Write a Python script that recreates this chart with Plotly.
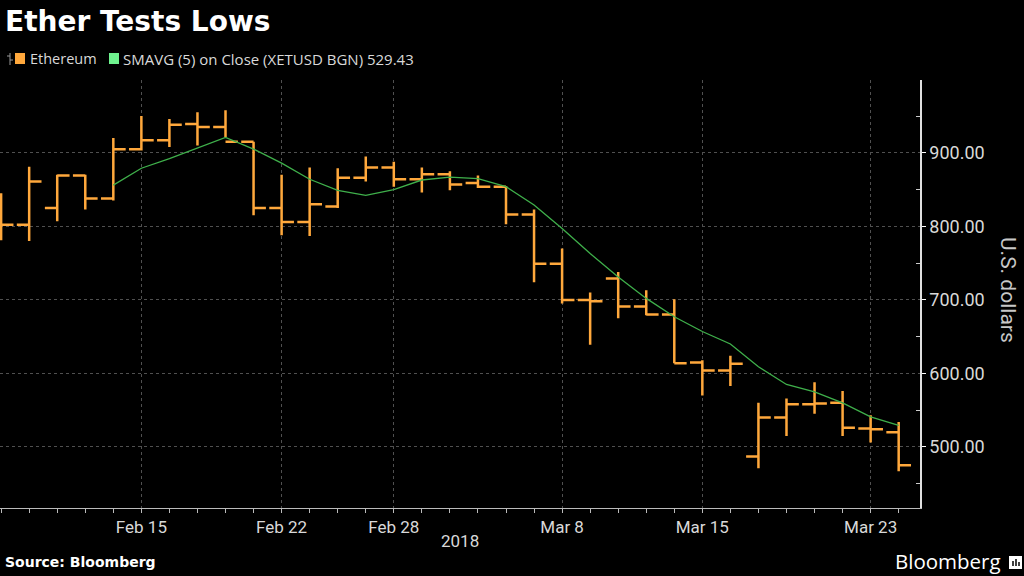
import pandas as pd
import plotly.graph_objects as go

# ---- data (weekday bars, Feb 8 – Mar 26, 2018) ----
dates = [d.strftime("%Y-%m-%d") for d in pd.bdate_range("2018-02-08", "2018-03-26")]
opens = [840, 802, 825, 869, 838, 905, 917, 939, 935, 915, 825, 806, 827, 866, 880, 864, 871,
         859, 854, 816, 749, 700, 729, 691, 680, 615, 604, 487, 540, 558, 560, 525, 520]
highs = [845, 881, 870, 870, 920, 950, 946, 955, 958, 915, 870, 880, 879, 895, 888, 880, 875,
         869, 855, 823, 770, 710, 738, 713, 701, 618, 624, 560, 566, 588, 576, 543, 534]
lows = [781, 780, 807, 823, 835, 903, 908, 910, 921, 815, 788, 787, 825, 861, 854, 846, 849,
        852, 803, 724, 695, 639, 675, 679, 614, 570, 583, 471, 515, 545, 515, 506, 467]
closes = [802, 861, 869, 838, 905, 917, 938, 935, 915, 825, 806, 830, 866, 880, 864, 871, 857,
          854, 816, 749, 700, 698, 691, 680, 614, 604, 613, 540, 558, 559, 526, 524, 475]
sma_start = 4
sma_values = [856, 879, 892, 906, 921, 905, 886, 864, 849, 842, 850, 863, 867, 865, 854, 829,
              797, 763, 731, 702, 677, 657, 640, 609, 585, 575, 560, 541, 529.43]
tick_dates = ["2018-02-15", "2018-02-22", "2018-02-28", "2018-03-08", "2018-03-15", "2018-03-23"]
tick_labels = ["Feb 15", "Feb 22", "Feb 28", "Mar 8", "Mar 15", "Mar 23"]
y_ticks = [500, 600, 700, 800, 900]

ORANGE = "#ffa83c"
GREEN_LINE = "#3fb04b"
GREEN_SWATCH = "#6ef28e"
TXT = "#d9d9d9"

idx = list(range(len(dates)))
tick_idx = [dates.index(d) for d in tick_dates]
sma_x = idx[sma_start:sma_start + len(sma_values)]

# plot area in pixels: x 0..920, y 80..508
PW, PT, PB = 920, 80, 508
def px_x(p):
    return p / PW
def px_y(p):
    return (PB - p) / (PB - PT)

fig = go.Figure()
fig.add_trace(go.Ohlc(
    x=idx, open=opens, high=highs, low=lows, close=closes,
    increasing=dict(line=dict(color=ORANGE, width=2.5)),
    decreasing=dict(line=dict(color=ORANGE, width=2.5)),
    tickwidth=0.44, showlegend=False, hoverinfo="skip",
))
fig.add_trace(go.Scatter(
    x=sma_x, y=sma_values, mode="lines",
    line=dict(color=GREEN_LINE, width=1.3), showlegend=False, hoverinfo="skip",
))

fig.update_layout(
    width=1024, height=576,
    margin=dict(l=0, r=1024 - PW, t=PT, b=576 - PB, autoexpand=False),
    paper_bgcolor="black", plot_bgcolor="black",
    font=dict(family="Roboto", color=TXT),
    xaxis=dict(
        automargin=False,
        range=[-0.04, 32.76], rangeslider=dict(visible=False),
        tickmode="array", tickvals=tick_idx, ticktext=tick_labels,
        ticks="outside", ticklen=4, tickcolor="#bbbbbb",
        tickfont=dict(size=17, color=TXT, family="Roboto"),
        showgrid=True, gridcolor="#505050", griddash="dot", gridwidth=1,
        showline=True, linecolor="#bbbbbb", linewidth=1,
        zeroline=False,
        minor=dict(tickmode="linear", tick0=0, dtick=1, ticks="outside", ticklen=4,
                   tickcolor="#bbbbbb", showgrid=False),
    ),
    yaxis=dict(
        automargin=False,
        side="right", range=[417, 999],
        tickmode="array", tickvals=y_ticks, tickformat=".2f",
        ticks="outside", ticklen=4, tickcolor="white",
        tickfont=dict(size=18, color=TXT, family="Roboto"),
        showgrid=True, gridcolor="#505050", griddash="dot", gridwidth=1,
        showline=True, linecolor="#e0e0e0", linewidth=1.5,
        zeroline=False,
        minor=dict(tickmode="linear", tick0=450, dtick=100, ticks="inside", ticklen=4,
                   tickcolor="#cccccc", showgrid=False),
    ),
)

annotations = [
    dict(text="<b>Ether Tests Lows</b>", x=px_x(3), y=px_y(21), xanchor="left", yanchor="middle",
         font=dict(family="DejaVu Sans", size=28, color="white")),
    dict(text="Ethereum", x=px_x(28), y=px_y(59), xanchor="left", yanchor="middle",
         font=dict(family="Open Sans", size=14.5, color=TXT)),
    dict(text="SMAVG (5) on Close (XETUSD BGN) 529.43", x=px_x(121), y=px_y(59),
         xanchor="left", yanchor="middle",
         font=dict(family="Open Sans", size=15, color=TXT)),
    dict(text="2018", x=px_x(460), y=px_y(541), xanchor="center", yanchor="middle",
         font=dict(family="Roboto", size=17, color=TXT)),
    dict(text="U.S. dollars", x=px_x(1008), y=px_y(290), xanchor="center", yanchor="middle",
         textangle=90, font=dict(family="Roboto", size=21, color="#c8c8c8")),
    dict(text="<b>Source: Bloomberg</b>", x=px_x(3), y=px_y(562), xanchor="left", yanchor="middle",
         font=dict(family="DejaVu Sans", size=14, color="white")),
    dict(text="Bloomberg", x=px_x(1003), y=px_y(561), xanchor="right", yanchor="middle",
         font=dict(family="Open Sans", size=20.5, color="white")),
]
for a in annotations:
    a.update(xref="paper", yref="paper", showarrow=False)
fig.update_layout(annotations=annotations)

shapes = [
    # legend swatches
    dict(type="rect", x0=px_x(15), x1=px_x(25), y0=px_y(53), y1=px_y(64),
         fillcolor=ORANGE, line=dict(width=0)),
    dict(type="rect", x0=px_x(109), x1=px_x(119), y0=px_y(53), y1=px_y(64),
         fillcolor=GREEN_SWATCH, line=dict(width=0)),
    # tiny OHLC glyph in legend
    dict(type="line", x0=px_x(10), x1=px_x(10), y0=px_y(53), y1=px_y(65),
         line=dict(color="#999999", width=1)),
    dict(type="line", x0=px_x(7), x1=px_x(10), y0=px_y(56), y1=px_y(56),
         line=dict(color="#999999", width=1)),
    dict(type="line", x0=px_x(10), x1=px_x(13), y0=px_y(60), y1=px_y(60),
         line=dict(color="#999999", width=1)),
    # Bloomberg logo mark
    dict(type="rect", x0=px_x(1009), x1=px_x(1022), y0=px_y(556), y1=px_y(569),
         fillcolor="white", line=dict(width=0)),
    dict(type="line", x0=px_x(1013), x1=px_x(1013), y0=px_y(561), y1=px_y(566),
         line=dict(color="black", width=1.5)),
    dict(type="line", x0=px_x(1016), x1=px_x(1016), y0=px_y(559), y1=px_y(566),
         line=dict(color="black", width=1.5)),
    dict(type="line", x0=px_x(1019), x1=px_x(1019), y0=px_y(562), y1=px_y(566),
         line=dict(color="black", width=1.5)),
]
for s in shapes:
    s.update(xref="paper", yref="paper")
fig.update_layout(shapes=shapes)

fig.write_html(
    "out.html",
    config={"displayModeBar": False},
    post_script="document.body.style.margin='0';document.body.style.background='black';",
)
